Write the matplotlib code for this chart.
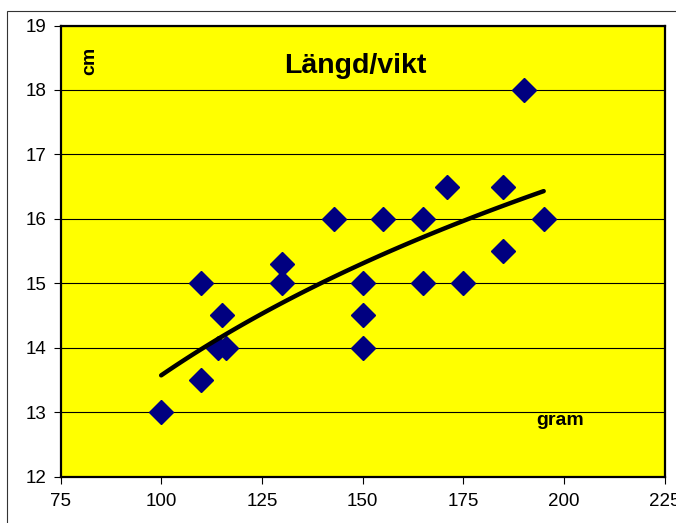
import numpy as np
import matplotlib
matplotlib.use("Agg")
import matplotlib.pyplot as plt
from matplotlib.patches import Rectangle

plt.rcParams['font.family'] = ['Liberation Sans', 'DejaVu Sans']

weight_g = [100, 110, 110, 115, 114, 116, 130, 130, 143, 150, 150, 150,
            155, 165, 165, 171, 175, 185, 185, 190, 195]
length_cm = [13, 13.5, 15, 14.5, 14, 14, 15.3, 15, 16, 15, 14.5, 14,
             16, 16, 15, 16.5, 15, 16.5, 15.5, 18, 16]
x_ticks = [75, 100, 125, 150, 175, 200, 225]
y_ticks = [12, 13, 14, 15, 16, 17, 18, 19]

fig = plt.figure(figsize=(6.76, 5.23), dpi=100)
fig.patch.set_facecolor('white')
fig.patches.append(Rectangle((7/676, -0.1), 1.2, 1 - 11/523 + 0.1,
                             transform=fig.transFigure, fill=False,
                             edgecolor='#333333', linewidth=0.8))
ax = fig.add_axes([60.5/676, 1 - 476.5/523, 604/676, 451/523])
ax.set_facecolor('#FFFF00')
ax.set_xlim(75, 225)
ax.set_ylim(12, 19)
ax.set_xticks(x_ticks)
ax.set_yticks(y_ticks)
ax.yaxis.grid(True, color='black', linewidth=0.8)
ax.set_axisbelow(True)
for s in ax.spines.values():
    s.set_linewidth(1.6)
ax.tick_params(direction='out', length=5, width=0.8, labelsize=13.5)
ax.tick_params(axis='y', pad=5)
ax.tick_params(axis='x', pad=7)

ax.plot(weight_g, length_cm, linestyle='none', marker='D', markersize=12.5,
        color='#000080', zorder=3)

# logarithmic trendline fitted to the data
xw = np.array(weight_g, dtype=float)
coef = np.polyfit(np.log(xw), np.array(length_cm), 1)
xs = np.linspace(min(weight_g), max(weight_g), 100)
ax.plot(xs, coef[0] * np.log(xs) + coef[1], color='black', linewidth=3.2,
        solid_capstyle='round', zorder=4)

fig.text(355/676, 1 - 73/523, 'Längd/vikt', ha='center', va='baseline',
         fontsize=20.5, fontweight='bold')
fig.text(90/676, 1 - 61/523, 'cm', rotation=90, ha='center', va='center',
         fontsize=14, fontweight='bold')
fig.text(560/676, 1 - 425/523, 'gram', ha='center', va='baseline',
         fontsize=14, fontweight='bold')

fig.savefig('out.png', dpi=100)
